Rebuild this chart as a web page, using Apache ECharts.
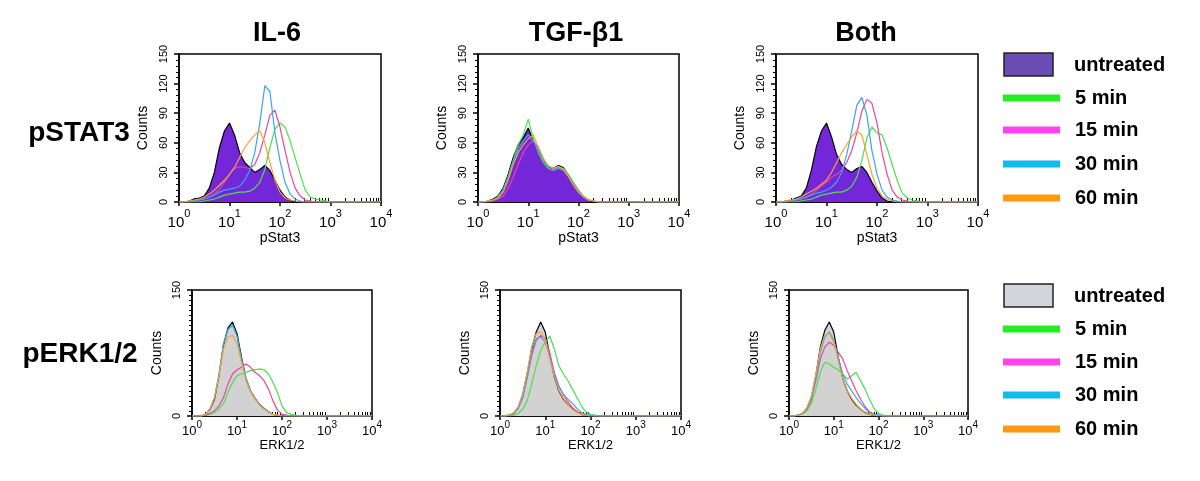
<!DOCTYPE html>
<html>
<head>
<meta charset="utf-8">
<script src="https://cdn.jsdelivr.net/npm/echarts@6/dist/echarts.min.js"></script>
<style>
html, body { margin: 0; padding: 0; background: #fff; }
#main { width: 1200px; height: 481px; }
</style>
</head>
<body>
<div id="main"></div>
<script>
// bin centres of the histogram (fluorescence channel, log scale)
var channels = [1, 1.259, 1.585, 1.995, 2.512, 3.162, 3.981, 5.012, 6.31, 7.943,
    10, 12.59, 15.85, 19.95, 25.12, 31.62, 39.81, 50.12, 63.1, 79.43,
    100, 125.9, 158.5, 199.5, 251.2, 316.2, 398.1, 501.2, 631, 794.3,
    1000, 1259, 1585, 1995, 2512, 3162, 3981, 5012, 6310, 7943, 10000];

var colTitles = ['IL-6', 'TGF-\u03b21', 'Both'];
var rowTitles = ['pSTAT3', 'pERK1/2'];
var xNames = ['pStat3', 'ERK1/2'];
var xTickValues = [1, 10, 100, 1000, 10000];
var xMinorValues = [2, 3, 4, 5, 6, 7, 8, 9, 20, 30, 40, 50, 60, 70, 80, 90,
    200, 300, 400, 500, 600, 700, 800, 900, 2000, 3000, 4000, 5000, 6000, 7000, 8000, 9000];
var legendNames = ['untreated', '5 min', '15 min', '30 min', '60 min'];

// pSTAT3 counts
var il6StatUntreated = [0,0,1,3,4,6,14,30,55,72, 80,68,50,40,35,30,33,37,32,22, 12,5,2,0,0,0,0,0,0,0, 0,0,0,0,0,0,0,0,0,0, 0];
var il6Stat5  = [0,0,0,0,0,1,2,3,5,7, 8,9,10,10,11,14,20,33,55,74, 80,76,62,45,28,12,5,3,2,1, 0,0,0,0,0,0,0,0,0,0, 0];
var il6Stat15 = [0,0,0,1,2,3,5,8,13,20, 28,34,36,35,34,38,50,68,88,93, 76,52,30,14,6,2,1,0,0,0, 0,0,0,0,0,0,0,0,0,0, 0];
var il6Stat30 = [0,0,1,1,2,3,5,7,10,12, 13,14,16,22,32,50,80,118,112,70, 42,20,8,3,1,0,0,0,0,0, 0,0,0,0,0,0,0,0,0,0, 0];
var il6Stat60 = [0,0,1,2,3,5,8,12,17,22, 28,35,45,55,62,68,72,60,40,22, 10,4,2,1,0,0,0,0,0,0, 0,0,0,0,0,0,0,0,0,0, 0];

var tgfStatUntreated = [0,0,1,3,6,14,28,45,58,65, 75,62,52,42,36,34,37,35,27,18, 11,5,2,0,0,0,0,0,0,0, 0,0,0,0,0,0,0,0,0,0, 0];
var tgfStat5  = [0,0,1,2,5,12,26,42,58,68, 84,64,50,40,34,32,36,34,28,20, 12,6,2,1,0,0,0,0,0,0, 0,0,0,0,0,0,0,0,0,0, 0];
var tgfStat15 = [0,0,0,1,3,6,14,25,38,50, 58,62,55,44,36,34,35,33,26,18, 11,5,2,1,0,0,0,0,0,0, 0,0,0,0,0,0,0,0,0,0, 0];
var tgfStat30 = [0,0,1,2,5,12,25,40,54,62, 68,62,52,42,35,32,34,32,26,18, 10,5,2,1,0,0,0,0,0,0, 0,0,0,0,0,0,0,0,0,0, 0];
var tgfStat60 = [0,0,1,2,4,10,22,38,50,58, 64,68,56,44,37,34,36,33,26,17, 10,5,2,1,0,0,0,0,0,0, 0,0,0,0,0,0,0,0,0,0, 0];

var bothStatUntreated = [0,0,1,2,4,6,14,32,56,72, 80,66,48,38,33,30,34,36,30,20, 11,4,1,0,0,0,0,0,0,0, 0,0,0,0,0,0,0,0,0,0, 0];
var bothStat5  = [0,0,0,0,0,1,2,3,5,7, 8,9,10,10,12,16,25,42,65,76, 70,68,55,38,22,9,4,2,1,0, 0,0,0,0,0,0,0,0,0,0, 0];
var bothStat15 = [0,0,0,1,2,3,5,8,12,16, 20,25,28,32,40,52,70,92,104,100, 80,50,28,12,5,2,1,0,0,0, 0,0,0,0,0,0,0,0,0,0, 0];
var bothStat30 = [0,0,1,1,2,3,5,7,9,10, 12,15,20,30,48,72,98,106,88,52, 28,12,5,2,1,0,0,0,0,0, 0,0,0,0,0,0,0,0,0,0, 0];
var bothStat60 = [0,0,1,2,3,5,8,11,14,18, 22,30,40,50,58,66,72,68,48,28, 14,6,3,1,0,0,0,0,0,0, 0,0,0,0,0,0,0,0,0,0, 0];

// pERK1/2 counts
var il6ErkUntreated = [0,0,0,2,8,20,48,85,105,112, 98,70,44,30,21,14,9,5,2,1, 0,0,0,0,0,0,0,0,0,0, 0,0,0,0,0,0,0,0,0,0, 0];
var il6Erk5  = [0,0,0,1,2,4,8,15,28,40, 48,50,52,54,55,56,55,50,40,28, 12,4,2,1,0,0,0,0,0,0, 0,0,0,0,0,0,0,0,0,0, 0];
var il6Erk15 = [0,0,0,1,3,6,12,22,38,50, 55,58,62,58,52,48,42,32,18,7, 2,1,0,0,0,0,0,0,0,0, 0,0,0,0,0,0,0,0,0,0, 0];
var il6Erk30 = [0,0,0,2,8,22,50,86,103,108, 95,68,45,30,21,14,9,5,2,1, 0,0,0,0,0,0,0,0,0,0, 0,0,0,0,0,0,0,0,0,0, 0];
var il6Erk60 = [0,0,0,2,9,22,48,80,94,96, 86,64,42,29,20,13,8,5,2,1, 0,0,0,0,0,0,0,0,0,0, 0,0,0,0,0,0,0,0,0,0, 0];

var tgfErkUntreated = [0,0,1,3,10,25,50,80,100,112, 100,72,46,30,20,14,9,5,2,1, 0,0,0,0,0,0,0,0,0,0, 0,0,0,0,0,0,0,0,0,0, 0];
var tgfErk5  = [0,0,0,1,3,8,18,38,60,78, 88,95,80,60,50,42,32,22,12,5, 2,1,0,0,0,0,0,0,0,0, 0,0,0,0,0,0,0,0,0,0, 0];
var tgfErk15 = [0,0,1,3,9,22,45,72,90,96, 92,75,52,36,25,17,10,5,2,1, 0,0,0,0,0,0,0,0,0,0, 0,0,0,0,0,0,0,0,0,0, 0];
var tgfErk30 = [0,0,1,3,9,22,46,75,92,94, 88,70,50,35,26,20,15,9,4,2, 1,0,0,0,0,0,0,0,0,0, 0,0,0,0,0,0,0,0,0,0, 0];
var tgfErk60 = [0,0,1,4,11,26,52,82,98,100, 90,68,46,31,21,14,8,4,2,1, 0,0,0,0,0,0,0,0,0,0, 0,0,0,0,0,0,0,0,0,0, 0];

var bothErkUntreated = [0,0,1,3,9,22,48,82,102,112, 100,70,45,30,20,13,8,4,2,1, 0,0,0,0,0,0,0,0,0,0, 0,0,0,0,0,0,0,0,0,0, 0];
var bothErk5  = [0,0,1,2,6,15,32,52,64,62, 58,55,50,44,48,52,42,32,20,9, 3,1,0,0,0,0,0,0,0,0, 0,0,0,0,0,0,0,0,0,0, 0];
var bothErk15 = [0,0,1,3,8,20,42,68,82,88, 84,76,68,54,42,30,20,11,5,2, 1,0,0,0,0,0,0,0,0,0, 0,0,0,0,0,0,0,0,0,0, 0];
var bothErk30 = [0,0,1,3,9,22,45,76,94,100, 90,70,50,38,30,22,15,9,4,2, 1,0,0,0,0,0,0,0,0,0, 0,0,0,0,0,0,0,0,0,0, 0];
var bothErk60 = [0,0,1,3,10,24,50,80,96,98, 88,66,45,30,21,14,8,4,2,1, 0,0,0,0,0,0,0,0,0,0, 0,0,0,0,0,0,0,0,0,0, 0];

var panelUntreated = [il6StatUntreated, tgfStatUntreated, bothStatUntreated,
    il6ErkUntreated, tgfErkUntreated, bothErkUntreated];
var panelLines = [
    [il6Stat5, il6Stat15, il6Stat30, il6Stat60],
    [tgfStat5, tgfStat15, tgfStat30, tgfStat60],
    [bothStat5, bothStat15, bothStat30, bothStat60],
    [il6Erk5, il6Erk15, il6Erk30, il6Erk60],
    [tgfErk5, tgfErk15, tgfErk30, tgfErk60],
    [bothErk5, bothErk15, bothErk30, bothErk60]
];

// styles / layout
var lineColors = ['#4ddf4d', '#e8459e', '#38a6ea', '#f6a23c'];
var legendColors = ['#22ee22', '#ff44ee', '#11bbee', '#ff9911'];
var fillColors = ['#7427d8', '#d2d2d2'];
var legendBoxColors = ['#6a4cb4', '#d4d4dc'];
var fontFamily = '"Liberation Sans", Arial, Helvetica, sans-serif';

var boxes = [
    { left: 179, top: 54, width: 202, height: 148 },
    { left: 478, top: 54, width: 201, height: 148 },
    { left: 776, top: 54, width: 202, height: 148 },
    { left: 192, top: 290, width: 180, height: 126 },
    { left: 500, top: 290, width: 181, height: 126 },
    { left: 789, top: 290, width: 179, height: 126 }
];

function toPairs(arr) {
    return channels.map(function (c, i) { return [c, arr[i]]; });
}

var grids = [], xAxes = [], yAxes = [], series = [];
for (var i = 0; i < 6; i++) {
    var row = i < 3 ? 0 : 1;
    var b = boxes[i];
    grids.push({
        left: b.left, top: b.top, width: b.width, height: b.height,
        show: true, borderColor: '#000', borderWidth: 1.5,
        outerBoundsMode: 'none'
    });
    // major ticks + labels
    xAxes.push({
        type: 'log', logBase: 10, gridIndex: i, position: 'bottom',
        min: 1, max: 10000,
        name: xNames[row], nameLocation: 'middle', nameGap: row == 0 ? 29 : 19,
        nameTextStyle: { fontFamily: fontFamily, fontSize: row == 0 ? 14 : 13, color: '#000' },
        axisLine: { show: true, lineStyle: { color: '#000', width: 1.5 } },
        axisTick: { show: true, length: 4, lineStyle: { color: '#000', width: 1.5 }, customValues: xTickValues },
        axisLabel: {
            customValues: xTickValues,
            margin: row == 0 ? 6 : 4,
            color: '#000',
            formatter: function (v) {
                return '{b|10}{s|' + Math.round(Math.log(v) / Math.LN10) + '}';
            },
            rich: row == 0 ? {
                b: { fontFamily: fontFamily, fontSize: 15, lineHeight: 22, verticalAlign: 'bottom', color: '#000' },
                s: { fontFamily: fontFamily, fontSize: 11, lineHeight: 8, verticalAlign: 'top', color: '#000' }
            } : {
                b: { fontFamily: fontFamily, fontSize: 13, lineHeight: 18, verticalAlign: 'bottom', color: '#000' },
                s: { fontFamily: fontFamily, fontSize: 10, lineHeight: 8, verticalAlign: 'top', color: '#000' }
            }
        },
        splitLine: { show: false }
    });
    // minor ticks between decades
    xAxes.push({
        type: 'log', logBase: 10, gridIndex: i, position: 'bottom',
        min: 1, max: 10000,
        axisLine: { show: false },
        axisTick: { show: true, inside: true, length: 4, lineStyle: { color: '#000', width: 1 }, customValues: xMinorValues },
        axisLabel: { show: false },
        splitLine: { show: false }
    });
    yAxes.push({
        type: 'value', gridIndex: i, min: 0, max: 150,
        interval: row == 0 ? 30 : 150,
        name: 'Counts', nameLocation: 'middle', nameGap: row == 0 ? 29 : 28,
        nameTextStyle: { fontFamily: fontFamily, fontSize: 14, color: '#000' },
        axisLine: { show: true, lineStyle: { color: '#000', width: 1.5 } },
        axisTick: { show: true, length: 5, lineStyle: { color: '#000', width: 1.5 } },
        minorTick: { show: true, splitNumber: row == 0 ? 5 : 25, length: 3, lineStyle: { color: '#000', width: 1 } },
        axisLabel: { rotate: 90, fontFamily: fontFamily, fontSize: 11, color: '#000', margin: 10 },
        splitLine: { show: false },
        minorSplitLine: { show: false }
    });

    series.push({
        name: legendNames[0], type: 'line', xAxisIndex: 2 * i, yAxisIndex: i,
        data: toPairs(panelUntreated[i]), symbol: 'none', silent: true, z: 2,
        lineStyle: { color: '#000', width: 1.2 },
        areaStyle: { color: fillColors[row], opacity: 1 }
    });
    for (var k = 0; k < 4; k++) {
        series.push({
            name: legendNames[k + 1], type: 'line', xAxisIndex: 2 * i, yAxisIndex: i,
            data: toPairs(panelLines[i][k]), symbol: 'none', silent: true, z: 3,
            lineStyle: { color: lineColors[k], width: 1.2 }
        });
    }
}

// titles, row labels and legends
var graphics = [];
var titleX = [277, 576, 866];
for (var c = 0; c < 3; c++) {
    graphics.push({
        type: 'text', x: titleX[c], y: 34,
        style: { text: colTitles[c], font: 'bold 27px ' + fontFamily, fill: '#000', align: 'center', verticalAlign: 'middle' }
    });
}
var rowY = [133, 354];
var rowX = [79, 80];
for (var r = 0; r < 2; r++) {
    graphics.push({
        type: 'text', x: rowX[r], y: rowY[r],
        style: { text: rowTitles[r], font: 'bold 28px ' + fontFamily, fill: '#000', align: 'center', verticalAlign: 'middle' }
    });
}
var legendTop = [65, 296];
var legendLineY = [[98, 130, 164, 198], [329, 362, 395, 429]];
for (var r = 0; r < 2; r++) {
    graphics.push({
        type: 'rect', shape: { x: 1004, y: legendTop[r] - 12, width: 49, height: 23 },
        style: { fill: legendBoxColors[r], stroke: '#222', lineWidth: 1.5 }
    });
    graphics.push({
        type: 'text', x: 1074, y: legendTop[r],
        style: { text: legendNames[0], font: 'bold 20px ' + fontFamily, fill: '#000', verticalAlign: 'middle' }
    });
    for (var k = 0; k < 4; k++) {
        graphics.push({
            type: 'rect', shape: { x: 1003, y: legendLineY[r][k] - 3.5, width: 57, height: 7 },
            style: { fill: legendColors[k] }
        });
        graphics.push({
            type: 'text', x: 1075, y: legendLineY[r][k],
            style: { text: legendNames[k + 1], font: 'bold 20px ' + fontFamily, fill: '#000', verticalAlign: 'middle' }
        });
    }
}

var myChart = echarts.init(document.getElementById('main'));
var option = {
    animation: false,
    backgroundColor: '#fff',
    grid: grids,
    xAxis: xAxes,
    yAxis: yAxes,
    series: series,
    graphic: graphics
};
myChart.setOption(option);
</script>
</body>
</html>
